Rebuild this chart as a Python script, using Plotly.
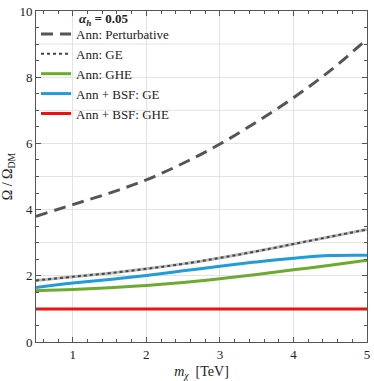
import plotly.graph_objects as go

# masa de materia oscura (TeV)
m_chi = [0.5, 1.0, 1.5, 2.0, 2.5, 3.0, 3.5, 4.0, 4.5, 5.0]

# Omega / Omega_DM
ann_pert = [3.80, 4.15, 4.50, 4.90, 5.40, 5.98, 6.65, 7.38, 8.20, 9.15]
ann_ge = [1.86, 1.97, 2.08, 2.21, 2.36, 2.54, 2.74, 2.96, 3.18, 3.40]
ann_ghe = [1.55, 1.585, 1.64, 1.71, 1.80, 1.91, 2.04, 2.18, 2.32, 2.47]
bsf_ge = [1.65, 1.78, 1.89, 2.01, 2.15, 2.29, 2.42, 2.53, 2.61, 2.62]
bsf_ghe = [1.0, 1.0, 1.0, 1.0, 1.0, 1.0, 1.0, 1.0, 1.0, 1.0]

FONT = "Liberation Serif"
AXIS = "#555555"
TXT = "#222222"

fig = go.Figure()

fig.add_trace(go.Scatter(x=m_chi, y=ann_pert, mode="lines", name="Ann: Perturbative",
                         line=dict(color="#555555", width=3, dash="12px,7px", shape="spline")))
# linea base gris para el punteado
fig.add_trace(go.Scatter(x=m_chi, y=ann_ge, mode="lines", showlegend=False, hoverinfo="skip",
                         line=dict(color="#bbbbbb", width=3, shape="spline")))
fig.add_trace(go.Scatter(x=m_chi, y=ann_ge, mode="lines", name="Ann: GE",
                         line=dict(color="#444444", width=2, dash="dot", shape="spline")))
fig.add_trace(go.Scatter(x=m_chi, y=ann_ghe, mode="lines", name="Ann: GHE",
                         line=dict(color="#6cab2f", width=3, shape="spline")))
fig.add_trace(go.Scatter(x=m_chi, y=bsf_ge, mode="lines", name="Ann + BSF: GE",
                         line=dict(color="#1f9ddb", width=3, shape="spline")))
fig.add_trace(go.Scatter(x=m_chi, y=bsf_ghe, mode="lines", name="Ann + BSF: GHE",
                         line=dict(color="#ee1111", width=3, shape="spline")))

axis_common = dict(
    showline=True, linecolor=AXIS, linewidth=1, mirror="ticks",
    ticks="inside", ticklen=5, tickcolor=AXIS,
    gridcolor="#e3e3e3", gridwidth=1, zeroline=False,
    tickfont=dict(family=FONT, size=13, color=TXT),
)

fig.update_xaxes(
    range=[0.5, 5], tickvals=[1, 2, 3, 4, 5],
    minor=dict(dtick=0.2, tick0=0, ticks="inside", ticklen=3, tickcolor=AXIS, showgrid=False),
    title=dict(text="<i>m</i><sub><i>χ</i></sub>  [TeV]", font=dict(family=FONT, size=14, color=TXT),
               standoff=6),
    **axis_common,
)
fig.update_yaxes(
    range=[0, 10], tickvals=[0, 2, 4, 6, 8, 10],
    minor=dict(dtick=0.5, tick0=0, ticks="inside", ticklen=3, tickcolor=AXIS,
               showgrid=False),
    title=dict(text="Ω / Ω<sub>DM</sub>", font=dict(family=FONT, size=14, color=TXT),
               standoff=4),
    **axis_common,
)
# lineas de grilla en cada entero
for yv in [1, 3, 5, 7, 9]:
    fig.add_hline(y=yv, line_color="#e3e3e3", line_width=1, layer="below")

# titulo de la leyenda
fig.add_annotation(text="<b><i>α<sub>h</sub></i> = 0.05</b>", xref="paper", yref="paper",
                   x=0.124, y=0.975, xanchor="left", yanchor="middle", showarrow=False,
                   font=dict(family=FONT, size=13, color=TXT))

fig.update_layout(
    width=374, height=381,
    margin=dict(l=36, r=4, t=8, b=39),
    plot_bgcolor="white", paper_bgcolor="white",
    font=dict(family=FONT, size=13, color=TXT),
    legend=dict(
        x=0.0, y=0.976, xanchor="left", yanchor="top",
        bgcolor="rgba(255,255,255,0)",
        font=dict(family=FONT, size=13),
        itemwidth=30,
    ),
    showlegend=True,
)

fig.write_html("out.html", config={"displayModeBar": False},
               post_script="document.body.style.margin='0';")
